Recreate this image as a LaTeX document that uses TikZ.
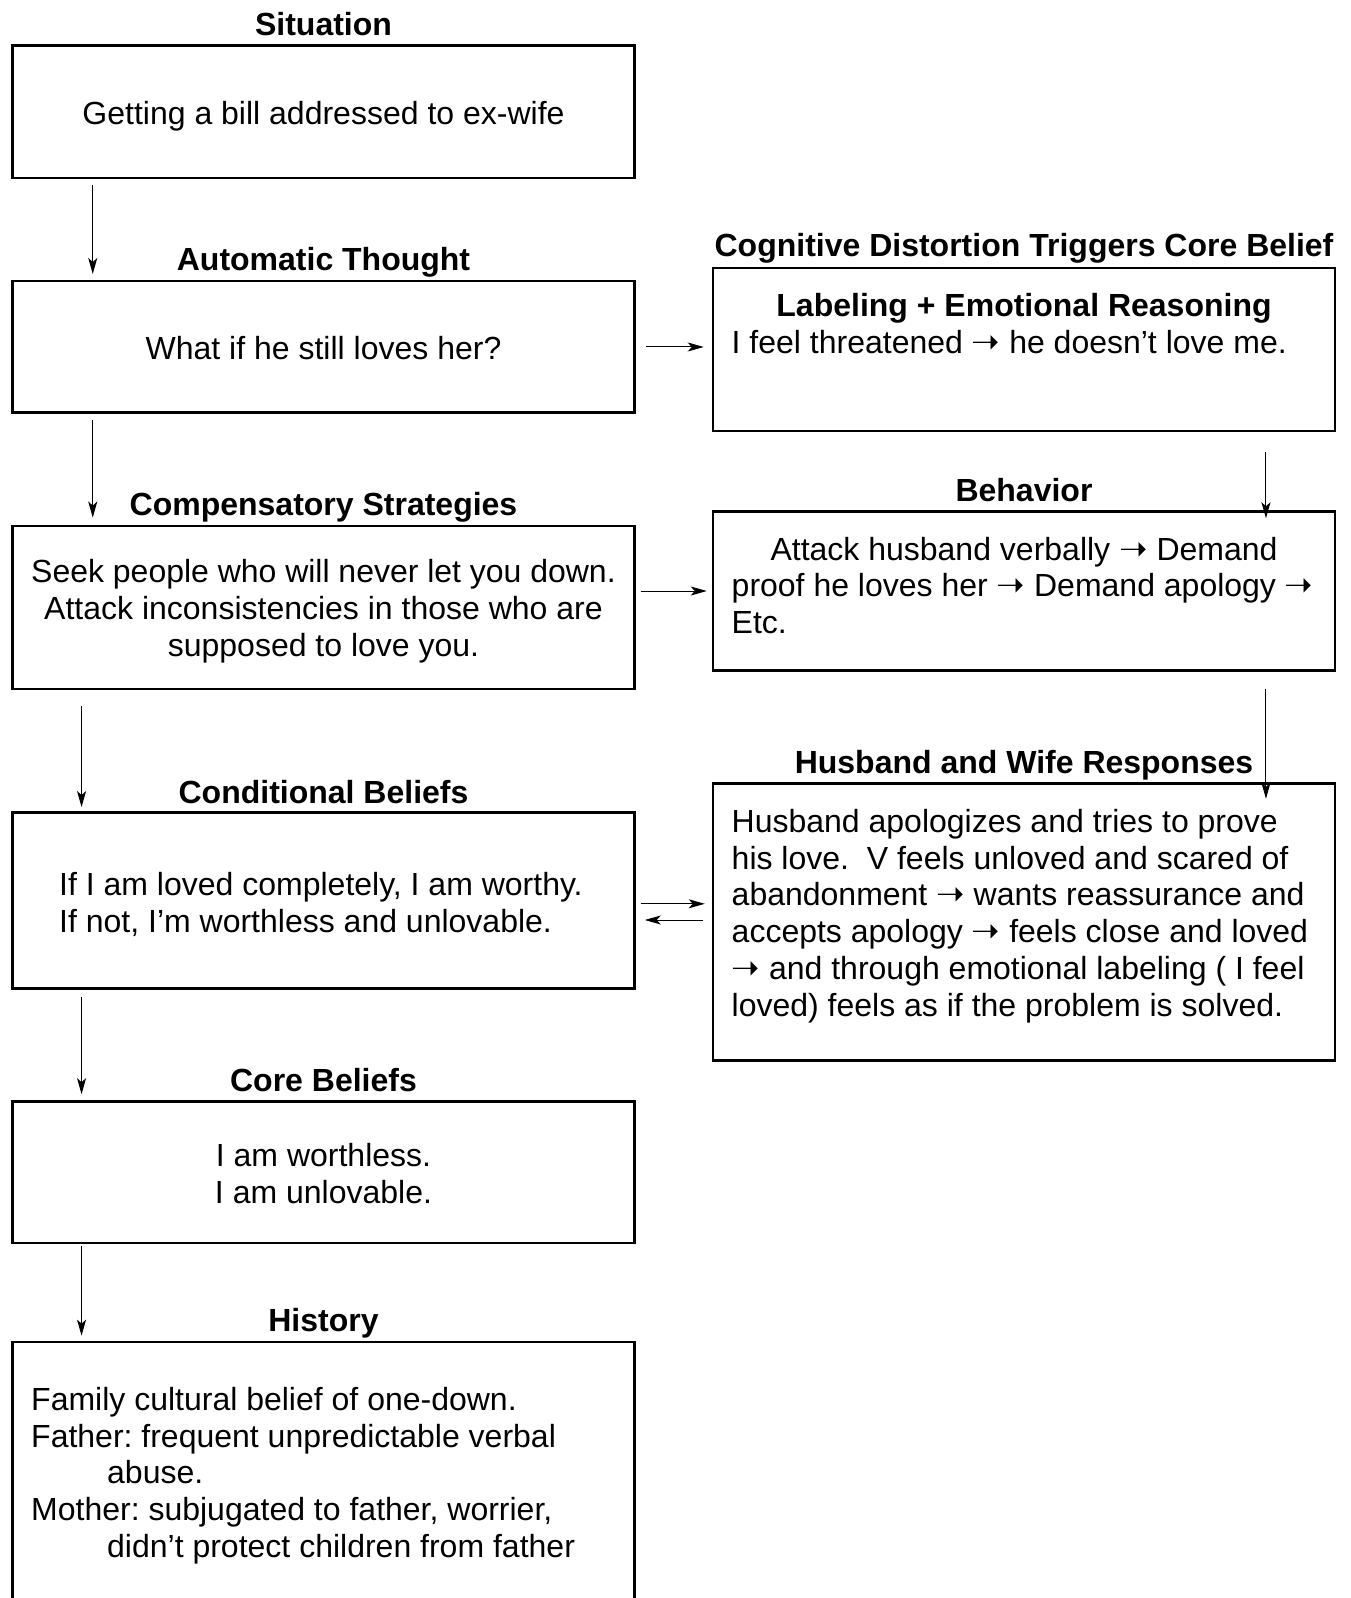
\documentclass[tikz,border=0pt]{standalone}
\usepackage{fontspec}
\setmainfont{Liberation Sans}
\newfontfamily\arrowfont{DejaVu Sans}
\newcommand{\rarr}{{\arrowfont\fontsize{17}{17}\selectfont ➝}}
\usetikzlibrary{positioning, arrows.meta, calc}
\frenchspacing

\begin{document}
\begin{tikzpicture}[x=0.5pt, y=-0.5pt, font=\fontsize{16}{18.4}\selectfont]
\tikzset{box/.style={draw, rectangle, line width=1.25pt, minimum width=311pt, inner xsep=9.2pt, text width=292.3pt, align=flush center, text height=15.5pt, fill=white},
  para/.style={box, align=flush left},
  title/.style={font=\fontsize{16}{18.4}\selectfont\bfseries, inner sep=0pt, text depth=0pt},
  arr/.style={-{Stealth[length=8pt, width=4.5pt, inset=2pt]}, line width=0.5pt}}
\useasboundingbox (0,0) rectangle (1350,1598);

% left column
\node[box, minimum height=66.25pt] (sit) at (323.5,112) {Getting a bill addressed to ex-wife};
\node[box, minimum height=65.75pt, text height=12.5pt] (aut) at (323.5,347) {What if he still loves her?};
\node[box, minimum height=81.5pt] (comp) at (323.5,607.3) {Seek people who will never let you down.\\Attack inconsistencies in those who are\\supposed to love you.};
\node[para, minimum height=88pt] (cond) at (323.5,900.3) {\hspace*{14pt}If I am loved completely, I am worthy.\\\hspace*{14pt}If not, I’m worthless and unlovable.};
\node[box, minimum height=70.85pt, text height=13pt] (core) at (323.5,1172.3) {I am worthless.\\I am unlovable.};
\node[para, minimum height=129.9pt] (hist) at (323.5,1471.8) {Family cultural belief of one-down.\\
Father: frequent unpredictable verbal\\
\hspace*{38pt}abuse.\\
Mother: subjugated to father, worrier,\\
\hspace*{38pt}didn’t protect children from father};

% right column
\node[para, minimum height=81.5pt] (cog) at (1024,349.5) {{\centering\bfseries Labeling + Emotional Reasoning\par}I feel threatened \rarr{} he doesn’t love me.\par\kern30.2pt\hrule height 0pt};
\node[para, minimum height=79.5pt] (beh) at (1024,591) {{\centering Attack husband verbally \rarr{} Demand\par}proof he loves her \rarr{} Demand apology \rarr\\Etc.\par\kern9.4pt\hrule height 0pt};
\node[para, minimum height=138.5pt] (resp) at (1024,922) {Husband apologizes and tries to prove\\
his love.\ \ V feels unloved and scared of\\
abandonment \rarr{} wants reassurance and\\
accepts apology \rarr{} feels close and loved\\
\rarr{} and through emotional labeling ( I feel\\
loved) feels as if the problem is solved.\par\kern9.9pt\hrule height 0pt};

% titles
\node[title, above=4.4pt of sit] (sit-t) {Situation};
\node[title, above=4.4pt of aut] (aut-t) {Automatic Thought};
\node[title, above=4.4pt of comp] (comp-t) {Compensatory Strategies};
\node[title, above=3.4pt of cond] (cond-t) {Conditional Beliefs};
\node[title, above=4.4pt of core] (core-t) {Core Beliefs};
\node[title, above=4.4pt of hist] (hist-t) {History};
\node[title, above=4.9pt of cog] (cog-t) {Cognitive Distortion Triggers Core Belief};
\node[title, above=4.4pt of beh] (beh-t) {Behavior};
\node[title, above=4.4pt of resp] (resp-t) {Husband and Wife Responses};

% arrows
\draw[arr] ($(sit.south west)+(81.5,6)$) -- ($(aut.north west)+(81.5,-6)$);
\draw[arr] ($(aut.south west)+(81.5,6)$) -- ($(comp.north west)+(81.5,-7)$);
\draw[arr] ($(comp.south west)+(70.3,16)$) -- ($(cond.north west)+(70.3,-4)$);
\draw[arr] ($(cond.south west)+(70.3,7)$) -- ($(core.north west)+(70.3,-6)$);
\draw[arr] ($(core.south west)+(70.3,2)$) -- ($(hist.north west)+(70.3,-5)$);
\draw[arr] ($(aut.east)+(10,0)$) -- ($(aut.east -| cog.west)+(-8,0)$);
\draw[arr] ($(comp.east |- beh.west)+(5,0)$) -- ($(beh.west)+(-5,0)$);
\draw[arr] ($(cond.east)+(5,3.5)$) -- ($(cond.east -| resp.west)+(-7,3.5)$);
\draw[arr] ($(resp.west)+(-9,-2)$) -- ($(resp.west -| cond.east)+(9,-2)$);
\draw[arr] ($(cog.south east)+(-70.3,20)$) -- ($(beh.north east)+(-70.3,8)$);
\draw[arr] ($(beh.south east)+(-70.3,17)$) -- ($(resp.north east)+(-70.3,16.5)$);
\end{tikzpicture}
\end{document}
